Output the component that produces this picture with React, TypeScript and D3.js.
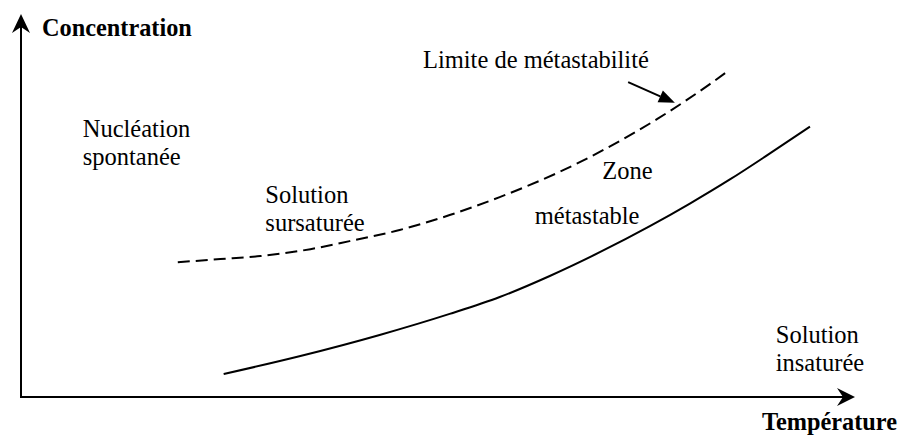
import React from "react";
import * as d3 from "d3";

const W = 904;
const H = 445;

// Data (arbitrary units: temperature 0-100, concentration 0-100)
const limitTemp = [18.8, 23.9, 28.7, 34.7, 39.4, 45.4, 51.4, 57.4, 64.6, 70.0, 76.3, 82.6, 84.7];
const limitConc = [35.2, 36.0, 36.8, 38.6, 40.7, 43.6, 47.5, 52.2, 58.8, 64.7, 72.6, 81.7, 85.0];

const solTemp = [24.3, 33.5, 43.0, 51.4, 57.4, 63.4, 69.4, 75.4, 80.2, 85.0, 89.8, 94.6];
const solConc = [6.0, 10.7, 16.2, 21.7, 26.1, 31.6, 37.8, 44.6, 50.5, 56.8, 63.6, 70.6];

const axisLabels = ["Concentration", "Température"];
const regionLabels = [
  ["Nucléation", "spontanée"],
  ["Solution", "sursaturée"],
  ["Zone"],
  ["métastable"],
  ["Solution", "insaturée"],
  ["Limite de métastabilité"],
];
// label anchor positions in data units (temperature, concentration)
const regionLabelT = [7.4, 29.3, 69.7, 61.6, 90.5, 48.2];
const regionLabelC = [67.9, 50.7, 56.9, 45.2, 14.1, 85.9];

const pointerFromT = 72.8;
const pointerFromC = 82.2;
const pointerToT = 78.4;
const pointerToC = 76.8;

export default function App() {
  const x = d3.scaleLinear().domain([0, 100]).range([21, 855]);
  const y = d3.scaleLinear().domain([0, 100]).range([397, 14]);

  const line = d3
    .line<[number, number]>()
    .x((d) => x(d[0]))
    .y((d) => y(d[1]))
    .curve(d3.curveMonotoneX);

  const limitPts: [number, number][] = limitTemp.map((t, i) => [t, limitConc[i]]);
  const solPts: [number, number][] = solTemp.map((t, i) => [t, solConc[i]]);

  const font = "'Times New Roman', 'Liberation Serif', Times, serif";
  const fs = 24.5;
  const lh = 28;

  // pointer arrow
  const px0 = x(pointerFromT), py0 = y(pointerFromC);
  const px1 = x(pointerToT), py1 = y(pointerToC);
  const ang = Math.atan2(py1 - py0, px1 - px0);
  const hl = 16, hw = 6.5;
  const bx = px1 - hl * Math.cos(ang), by = py1 - hl * Math.sin(ang);
  const head = [
    [px1, py1],
    [bx + hw * Math.sin(ang), by - hw * Math.cos(ang)],
    [bx - hw * Math.sin(ang), by + hw * Math.cos(ang)],
  ];

  const x0 = x(0), y0 = y(0);
  const yTop = y(100), xEnd = x(100);

  return (
    <svg
      width={W}
      height={H}
      style={{ position: "absolute", left: 0, top: 0, background: "#fff" }}
      fontFamily={font}
    >
      {/* axes */}
      <line x1={x0} y1={y0 + 1} x2={x0} y2={yTop + 12} stroke="#000" strokeWidth={2} />
      <line x1={x0 - 1} y1={y0} x2={xEnd - 12} y2={y0} stroke="#000" strokeWidth={2} />
      <path
        d={`M${x0},${yTop} L${x0 + 9},${yTop + 19} L${x0},${yTop + 13} L${x0 - 9},${yTop + 19} Z`}
        fill="#000"
      />
      <path
        d={`M${xEnd},${y0} L${xEnd - 18},${y0 - 9} L${xEnd - 12},${y0} L${xEnd - 18},${y0 + 9} Z`}
        fill="#000"
      />
      <text x={42} y={36} fontSize={24.3} fontWeight="bold">
        {axisLabels[0]}
      </text>
      <text x={762} y={430} fontSize={24.3} fontWeight="bold">
        {axisLabels[1]}
      </text>

      {/* curves */}
      <path d={line(limitPts) || ""} fill="none" stroke="#000" strokeWidth={2} strokeDasharray="12 6" />
      <path d={line(solPts) || ""} fill="none" stroke="#000" strokeWidth={2} />

      {/* pointer */}
      <line x1={px0} y1={py0} x2={bx} y2={by} stroke="#000" strokeWidth={2} />
      <polygon points={head.map((p) => p.join(",")).join(" ")} fill="#000" />

      {/* region labels */}
      {regionLabels.map((lines, i) => (
        <text key={i} x={x(regionLabelT[i])} y={y(regionLabelC[i])} fontSize={fs}>
          {lines.map((s, j) => (
            <tspan key={j} x={x(regionLabelT[i])} dy={j === 0 ? 0 : lh}>
              {s}
            </tspan>
          ))}
        </text>
      ))}
    </svg>
  );
}
